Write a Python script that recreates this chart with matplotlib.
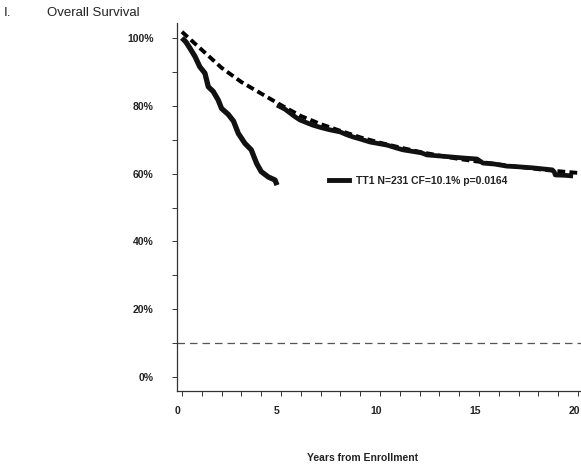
import matplotlib.pyplot as plt
import matplotlib.transforms as mtransforms
from matplotlib.lines import Line2D
from matplotlib.ticker import MultipleLocator, FuncFormatter

plt.rcParams['font.family'] = ['Liberation Sans', 'DejaVu Sans']

# early solid curve (years, survival %)
early_t = [0, 0.2, 0.4, 0.66, 0.9, 1.16, 1.33, 1.58, 1.83, 2.0, 2.33, 2.6, 2.85,
           3.18, 3.5, 3.77, 4.0, 4.36, 4.7, 4.8]
early_s = [100, 98.8, 97, 94.5, 91.5, 89.6, 85.6, 84.2, 81.7, 79.2, 77.5, 75.5, 71.8,
           68.9, 67.0, 63.0, 60.6, 59.0, 58.1, 56.6]

# late solid curve
late_t = [4.8, 5.2, 5.45, 5.7, 5.96, 6.3, 6.6, 7.0, 7.47, 7.98, 8.3, 8.64, 9.0, 9.5,
          10.35, 10.8, 11.16, 11.8, 12.1, 12.37, 13.0, 13.6, 14.2, 14.9, 15.2, 15.8,
          16.4, 17.0, 17.7, 18.2, 18.7, 18.8, 18.85, 19.3, 19.75]
late_s = [80.2, 79.0, 77.9, 76.8, 75.8, 75.0, 74.3, 73.6, 72.9, 72.3, 71.5, 70.8, 70.2, 69.3,
          68.4, 67.6, 67.0, 66.4, 66.1, 65.5, 65.2, 64.9, 64.6, 64.3, 63.1, 62.8,
          62.2, 62.0, 61.7, 61.4, 61.1, 60.5, 59.6, 59.5, 59.3]

# dashed fitted curve
fit_t = [0, 1, 2, 3, 4, 5, 6, 7, 8, 9, 10, 11, 12, 13, 14, 15, 16, 17, 18, 19, 20]
fit_s = [101.8, 96.5, 91.2, 87, 83.6, 80.2, 77, 74.6, 72.6, 70.7, 69.1, 67.7, 66.4,
         65.3, 64.3, 63.5, 62.7, 62.0, 61.3, 60.7, 60.2]

cure_fraction = 10
legend_label = 'TT1 N=231 CF=10.1% p=0.0164'

fig = plt.figure(figsize=(5.81, 4.68), dpi=100)
ax = fig.add_axes([177 / 581, 77 / 468, 404 / 581, 368 / 468])

ax.plot(fit_t, fit_s, color='black', lw=2.8, ls=(0, (2.0, 1.1)), zorder=2)
ax.plot(early_t, early_s, color='#111111', lw=3.8, solid_capstyle='butt', zorder=3)
ax.plot(late_t, late_s, color='#111111', lw=3.4, solid_capstyle='butt', zorder=3)
ax.axhline(cure_fraction, color='#555555', lw=0.9, ls=(0, (6, 4)), zorder=1)

ax.set_xlim(-0.25, 20.15)
ax.set_ylim(-4.1, 104.4)

ax.spines['top'].set_visible(False)
ax.spines['right'].set_visible(False)
for sp in ['left', 'bottom']:
    ax.spines[sp].set_color('#333333')
    ax.spines[sp].set_linewidth(0.9)

ax.xaxis.set_major_locator(MultipleLocator(5))
ax.xaxis.set_minor_locator(MultipleLocator(1))
ax.yaxis.set_major_locator(MultipleLocator(20))
ax.yaxis.set_minor_locator(MultipleLocator(10))
ax.yaxis.set_major_formatter(FuncFormatter(lambda v, p: f'{v:.0f}%'))

ax.tick_params(axis='both', which='both', direction='out', length=3.5, width=0.7,
               color='#333333', labelsize=7.5)
ax.tick_params(axis='y', pad=13.5)
ax.tick_params(axis='x', pad=7.5)
for lab in ax.get_xticklabels() + ax.get_yticklabels():
    lab.set_fontweight('bold')
    lab.set_color('#222222')
shift = mtransforms.ScaledTranslation(-4 / 100, 0, fig.dpi_scale_trans)
for lab in ax.get_xticklabels():
    lab.set_transform(lab.get_transform() + shift)

handle = Line2D([], [], color='#111111', lw=3.5)
leg = ax.legend([handle], [legend_label], loc='center left',
                bbox_to_anchor=(320 / 581, 1 - 181 / 468), bbox_transform=fig.transFigure,
                frameon=False, handlelength=1.9, handletextpad=0.7,
                prop={'size': 7.5, 'weight': 'bold'})
for t in leg.get_texts():
    t.set_color('#222222')

fig.text(363 / 581, 1 - 458 / 468, 'Years from Enrollment', ha='center', va='center',
         fontsize=7.5, fontweight='bold', color='#222222')
fig.text(4 / 581, 1 - 13 / 468, 'I.', ha='left', va='center', fontsize=9.5, color='#222222')
fig.text(47 / 581, 1 - 13 / 468, 'Overall Survival', ha='left', va='center',
         fontsize=9.5, color='#222222')

fig.savefig('out.png', dpi=100)
